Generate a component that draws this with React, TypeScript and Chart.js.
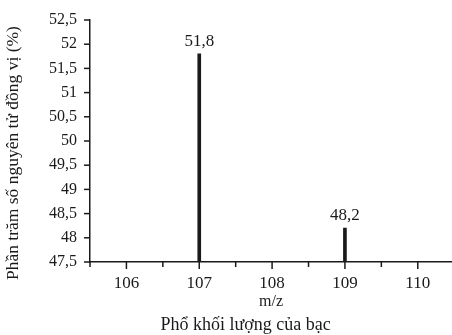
import React, { useEffect, useRef } from 'react';
import { Chart, registerables } from 'chart.js';

Chart.register(...registerables);

const massNumbers = [107, 109];
const abundances = [51.8, 48.2];
const valueLabels = ['51,8', '48,2'];
const xTickValues = [105.5, 106, 106.5, 107, 107.5, 108, 108.5, 109, 109.5, 110];
const xTitle = 'm/z';
const caption = 'Phổ khối lượng của bạc';
const yTitle = 'Phần trăm số nguyên tử đồng vị (%)';

const FONT = '"Liberation Serif", "DejaVu Serif", serif';
const INK = '#1a1a1a';

const fmt = (v: number) => (Number.isInteger(v) ? String(v) : String(v).replace('.', ','));

export default function App() {
  const ref = useRef<HTMLCanvasElement | null>(null);

  useEffect(() => {
    document.body.style.margin = '0';
    const canvas = ref.current;
    if (!canvas) return;

    const labelPlugin = {
      id: 'valueLabels',
      afterDatasetsDraw(chart: any) {
        const ctx = chart.ctx;
        const meta = chart.getDatasetMeta(0);
        ctx.save();
        ctx.fillStyle = INK;
        ctx.font = `17px ${FONT}`;
        ctx.textAlign = 'center';
        ctx.textBaseline = 'bottom';
        meta.data.forEach((el: any, i: number) => {
          ctx.fillText(valueLabels[i], el.x, el.y - 4);
        });
        ctx.restore();
      },
    };

    const decorPlugin = {
      id: 'axisDecor',
      afterDraw(chart: any) {
        const ctx = chart.ctx;
        const xs = chart.scales.x;
        const ys = chart.scales.y;
        const area = chart.chartArea;
        ctx.save();
        ctx.strokeStyle = INK;
        ctx.lineWidth = 1.5;
        xTickValues.forEach((v) => {
          const px = xs.getPixelForValue(v);
          const len = Number.isInteger(v) ? 7 : 5;
          ctx.beginPath();
          ctx.moveTo(px, area.bottom);
          ctx.lineTo(px, area.bottom + len);
          ctx.stroke();
        });
        ys.ticks.forEach((t: any) => {
          const py = ys.getPixelForValue(t.value);
          ctx.beginPath();
          ctx.moveTo(area.left, py);
          ctx.lineTo(area.left - 6, py);
          ctx.stroke();
        });

        ctx.fillStyle = INK;
        ctx.textAlign = 'center';
        ctx.textBaseline = 'middle';
        ctx.font = `16px ${FONT}`;
        ctx.fillText(xTitle, (area.left + area.right) / 2, area.bottom + 40);
        ctx.font = `18px ${FONT}`;
        ctx.fillText(caption, area.left + (area.right - area.left) * 0.43, area.bottom + 63);

        ctx.translate(13, area.top + (area.bottom - area.top) * 0.55);
        ctx.rotate(-Math.PI / 2);
        ctx.font = `17.5px ${FONT}`;
        ctx.fillText(yTitle, 0, 0);
        ctx.restore();
      },
    };

    const chart = new Chart(canvas, {
      type: 'bar',
      data: {
        datasets: [
          {
            data: massNumbers.map((m, i) => ({ x: m, y: abundances[i] })),
            backgroundColor: INK,
            borderWidth: 0,
            barThickness: 3,
          },
        ],
      },
      options: {
        animation: false,
        responsive: false,
        maintainAspectRatio: false,
        layout: { padding: { left: 0, right: 0, top: 20, bottom: 0 } },
        plugins: {
          legend: { display: false },
          tooltip: { enabled: false },
        },
        scales: {
          x: {
            type: 'linear',
            offset: false,
            min: 105.5,
            max: 110.47,
            afterBuildTicks: (scale: any) => {
              scale.ticks = xTickValues.map((v) => ({ value: v }));
            },
            afterFit: (scale: any) => {
              scale.height = 73;
              scale.paddingLeft = 0;
              scale.paddingRight = 0;
            },
            ticks: {
              autoSkip: false,
              maxRotation: 0,
              padding: 11,
              color: INK,
              font: { family: FONT, size: 17 },
              callback: (v: any) => (Number.isInteger(Number(v)) ? String(v) : ''),
            },
            grid: { display: false, drawOnChartArea: false, drawTicks: false },
            border: { display: true, color: INK, width: 1.5 },
          },
          y: {
            min: 47.5,
            max: 52.5,
            afterFit: (scale: any) => {
              scale.width = 90;
              scale.paddingTop = 0;
              scale.paddingBottom = 0;
            },
            ticks: {
              stepSize: 0.5,
              padding: 13,
              color: INK,
              font: { family: FONT, size: 16 },
              callback: (v: any) => fmt(Number(v)),
            },
            grid: { display: false, drawOnChartArea: false, drawTicks: false },
            border: { display: true, color: INK, width: 1.5 },
          },
        },
      },
      plugins: [labelPlugin, decorPlugin],
    });

    return () => chart.destroy();
  }, []);

  return (
    <div style={{ width: 452, height: 335 }}>
      <canvas ref={ref} width={452} height={335} style={{ display: 'block' }} />
    </div>
  );
}
